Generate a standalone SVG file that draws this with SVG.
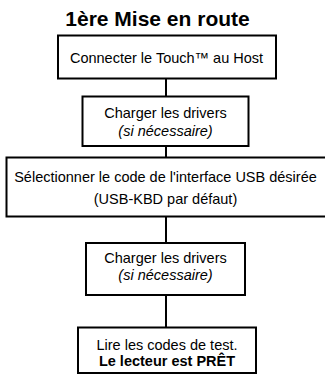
<svg xmlns="http://www.w3.org/2000/svg" width="325" height="374" viewBox="0 0 325 374">
<style>
.box{fill:#fff;stroke:#000;stroke-width:2}
.con{stroke:#000;stroke-width:2;fill:none}
text{font-family:"Liberation Sans",Arial,sans-serif;font-size:14.5px;fill:#000;text-anchor:middle}
.title{font-size:21px;font-weight:bold}
.it{font-style:italic}
.b{font-weight:bold}
</style>
<rect width="325" height="374" fill="#fff"/>
<text class="title" x="157.5" y="26">1ère Mise en route</text>
<g id="connectors">
<line class="con" x1="166" y1="78" x2="166" y2="97"/>
<line class="con" x1="166" y1="146" x2="166" y2="158"/>
<line class="con" x1="166" y1="216" x2="166" y2="243"/>
<line class="con" x1="166" y1="295" x2="166" y2="327"/>
</g>
<g id="n1">
<rect class="box" x="58" y="35.5" width="218" height="43"/>
<text x="166.5" y="62.5">Connecter le Touch™ au Host</text>
</g>
<g id="n2">
<rect class="box" x="82.5" y="96.5" width="166" height="49.5"/>
<text x="165.5" y="118">Charger les drivers</text>
<text class="it" x="165.5" y="136">(si nécessaire)</text>
</g>
<g id="n3">
<rect class="box" x="6.5" y="157.5" width="320" height="59"/>
<text x="165.5" y="181.5">Sélectionner le code de l'interface USB désirée</text>
<text x="165.5" y="204">(USB-KBD par défaut)</text>
</g>
<g id="n4">
<rect class="box" x="86" y="243" width="159" height="52"/>
<text x="165.5" y="263">Charger les drivers</text>
<text class="it" x="165.5" y="280">(si nécessaire)</text>
</g>
<g id="n5">
<rect class="box" x="78" y="327.5" width="178" height="45.5"/>
<text x="167" y="350">Lire les codes de test.</text>
<text class="b" x="167" y="366">Le lecteur est PRÊT</text>
</g>
</svg>
